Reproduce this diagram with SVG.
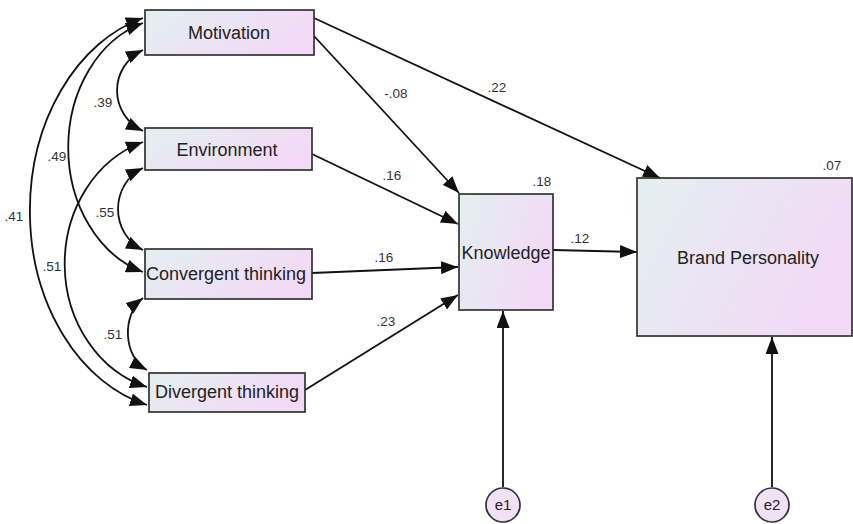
<svg xmlns="http://www.w3.org/2000/svg" width="853" height="524" viewBox="0 0 853 524">
<defs>
<linearGradient id="g" x1="0" y1="0" x2="1" y2="0.4">
<stop offset="0" stop-color="#e3eff0"/>
<stop offset="1" stop-color="#f2daf6"/>
</linearGradient>
<marker id="ah" markerUnits="userSpaceOnUse" markerWidth="17" markerHeight="13" viewBox="0 0 17 13" refX="17" refY="6.5" orient="auto-start-reverse">
<path d="M0,0 L17,6.5 L0,13 z" fill="#111"/>
</marker>
<style>
.box{fill:url(#g);stroke:#333;stroke-width:1.7}
.err{fill:#f1e1f6;stroke:#333;stroke-width:1.7}
.lbl{font-family:"Liberation Sans",Arial,sans-serif;font-size:18px;fill:#222;text-anchor:middle}
.num{font-family:"Liberation Sans",Arial,sans-serif;font-size:13.5px;fill:#333;text-anchor:middle}
.ln{fill:none;stroke:#111;stroke-width:1.8;marker-end:url(#ah)}
.cv{fill:none;stroke:#111;stroke-width:1.8;marker-start:url(#ah);marker-end:url(#ah)}
</style>
</defs>
<rect width="853" height="524" fill="#fff"/>
<g id="connectors">
<path class="cv" d="M143,18 A154,200 0 0 0 147,405"/>
<path class="cv" d="M143,23 A105,130 0 0 0 143,272"/>
<path class="cv" d="M143,142 A113,128 0 0 0 147,387"/>
<path class="cv" d="M143,50 A46,45 0 0 0 143,131"/>
<path class="cv" d="M143,168 A42.5,45 0 0 0 143,250"/>
<path class="cv" d="M143,298 A30,40 0 0 0 147,370"/>
<path class="ln" d="M314,36 L459,193"/>
<path class="ln" d="M314,18 L660,178"/>
<path class="ln" d="M312,154 L458,224"/>
<path class="ln" d="M312,273 L458,267"/>
<path class="ln" d="M305,390 L458,295"/>
<path class="ln" d="M553,250 L637,252"/>
<path class="ln" d="M503,487 L503,311"/>
<path class="ln" d="M772,487 L772,337"/>
</g>
<g id="labels">
<text class="num" x="497" y="92">.22</text>
<text class="num" x="396" y="98">-.08</text>
<text class="num" x="392" y="180">.16</text>
<text class="num" x="384" y="262">.16</text>
<text class="num" x="386" y="326">.23</text>
<text class="num" x="542" y="186">.18</text>
<text class="num" x="580" y="243">.12</text>
<text class="num" x="832" y="170">.07</text>
<text class="num" x="103" y="107">.39</text>
<text class="num" x="57" y="161">.49</text>
<text class="num" x="14" y="221">.41</text>
<text class="num" x="105" y="217">.55</text>
<text class="num" x="52" y="271">.51</text>
<text class="num" x="113" y="339">.51</text>
</g>
<g id="motivation"><rect class="box" x="145" y="10" width="169" height="45"/><text class="lbl" x="229" y="39">Motivation</text></g>
<g id="environment"><rect class="box" x="145" y="128" width="167" height="42"/><text class="lbl" x="227" y="156">Environment</text></g>
<g id="convergent"><rect class="box" x="145" y="249" width="167" height="50"/><text class="lbl" x="226" y="280">Convergent thinking</text></g>
<g id="divergent"><rect class="box" x="149" y="373" width="156" height="39"/><text class="lbl" x="227" y="398">Divergent thinking</text></g>
<g id="knowledge"><rect class="box" x="459" y="194" width="94" height="116"/><text class="lbl" x="506" y="259">Knowledge</text></g>
<g id="brand"><rect class="box" x="637" y="178" width="215" height="158"/><text class="lbl" x="748" y="264">Brand Personality</text></g>
<g id="e1"><circle class="err" cx="503" cy="505" r="17"/><text class="lbl" x="503" y="510" style="font-size:15px">e1</text></g>
<g id="e2"><circle class="err" cx="772" cy="505" r="17"/><text class="lbl" x="772" y="510" style="font-size:15px">e2</text></g>
</svg>
